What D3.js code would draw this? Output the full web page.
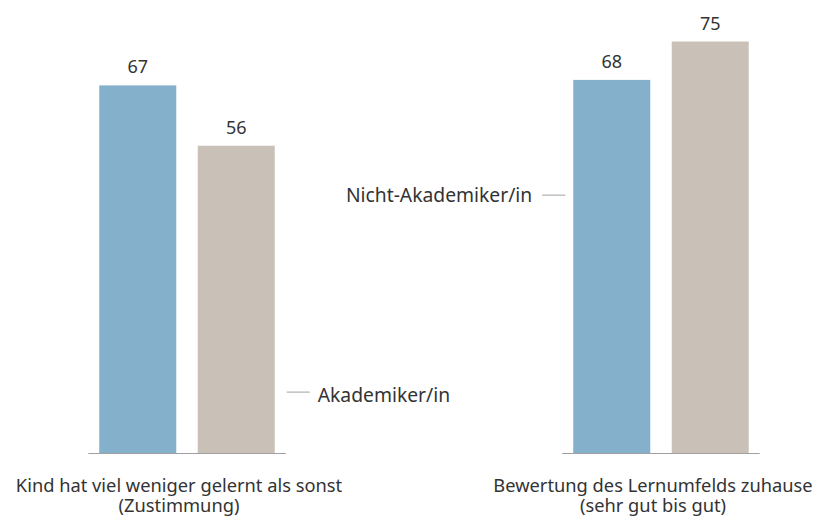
<!DOCTYPE html>
<html>
<head>
<meta charset="utf-8">
<script src="https://cdn.jsdelivr.net/npm/d3@7"></script>
<style>
  body { margin: 0; background: #fff; }
  text { font-family: "Noto Sans", sans-serif; fill: #333; }
</style>
</head>
<body>
<svg id="chart"></svg>
<script>
// data
const categories = ['Kind hat viel weniger gelernt als sonst|(Zustimmung)',
                    'Bewertung des Lernumfelds zuhause|(sehr gut bis gut)'];
const series = ['Nicht-Akademiker/in', 'Akademiker/in'];
const nichtAkademiker = [67, 68];
const akademiker = [56, 75];

const colors = { 'Nicht-Akademiker/in': '#85b0cb', 'Akademiker/in': '#c9c1b8' };

const width = 823;
const height = 520;
const baseline = 453;

const svg = d3.select('#chart')
  .attr('width', width)
  .attr('height', height);

const rows = categories.map((c, i) => ({
  category: c,
  values: [
    { key: series[0], value: nichtAkademiker[i] },
    { key: series[1], value: akademiker[i] }
  ]
}));

// scales
const x0 = d3.scalePoint().domain(categories).range([187, 661]);
const x1 = d3.scaleBand().domain(series).range([-87.75, 87.75]).paddingInner(0.218);
const y = d3.scaleLinear().domain([0, 75]).range([baseline, 41.5]);

const groups = svg.selectAll('g.group')
  .data(rows)
  .enter()
  .append('g')
  .attr('class', 'group')
  .attr('transform', (d) => `translate(${x0(d.category)},0)`);

// baseline under each pair
groups.append('line')
  .attr('x1', x1.range()[0] - 11)
  .attr('x2', x1.range()[1] + 11)
  .attr('y1', baseline + 0.5)
  .attr('y2', baseline + 0.5)
  .style('stroke', '#a0a0a0')
  .style('stroke-width', 1.2);

groups.selectAll('rect')
  .data((d) => d.values)
  .enter()
  .append('rect')
  .attr('x', (d) => x1(d.key))
  .attr('width', x1.bandwidth())
  .attr('y', (d) => y(d.value))
  .attr('height', (d) => baseline - y(d.value))
  .style('fill', (d) => colors[d.key]);

// value labels
groups.selectAll('text.value')
  .data((d) => d.values)
  .enter()
  .append('text')
  .attr('class', 'value')
  .attr('x', (d) => x1(d.key) + x1.bandwidth() / 2)
  .attr('y', (d) => y(d.value) - 12)
  .attr('text-anchor', 'middle')
  .style('font-size', '18px')
  .text((d) => d.value);

// category labels
groups.append('text')
  .attr('text-anchor', 'middle')
  .style('font-size', '18.3px')
  .selectAll('tspan')
  .data((d) => d.category.split('|'))
  .enter()
  .append('tspan')
  .attr('x', -8)
  .attr('y', (d, i) => 492 + i * 20)
  .text((d) => d);

// series labels with leader lines
const akaX = x0(categories[0]) + x1(series[1]) + x1.bandwidth();
const akaY = y(11.1);
svg.append('line')
  .attr('x1', akaX + 12).attr('x2', akaX + 35)
  .attr('y1', akaY).attr('y2', akaY)
  .style('stroke', '#a0a0a0');
svg.append('text')
  .attr('x', akaX + 43)
  .attr('y', akaY + 10)
  .style('font-size', '19.3px')
  .text(series[1]);

const nichtX = x0(categories[1]) + x1(series[0]);
const nichtY = y(47);
svg.append('line')
  .attr('x1', nichtX - 8).attr('x2', nichtX - 31)
  .attr('y1', nichtY).attr('y2', nichtY)
  .style('stroke', '#a0a0a0');
svg.append('text')
  .attr('x', nichtX - 41)
  .attr('y', nichtY + 7)
  .attr('text-anchor', 'end')
  .style('font-size', '19.3px')
  .text(series[0]);
</script>
</body>
</html>
